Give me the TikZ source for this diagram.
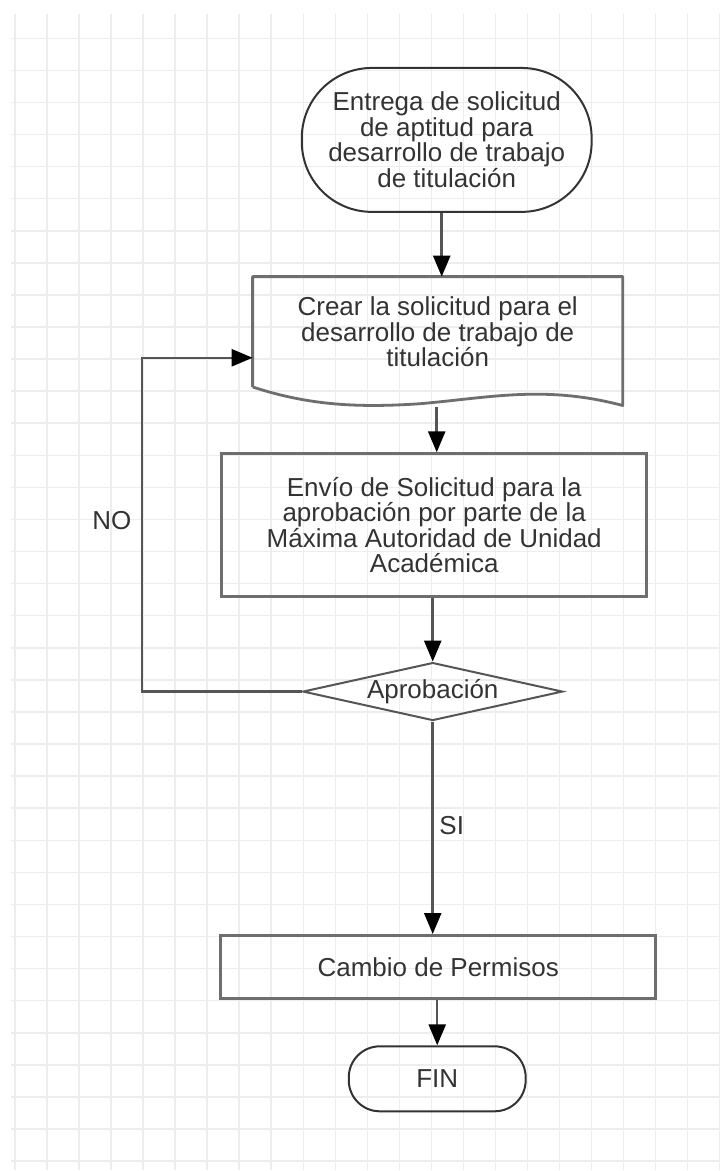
\documentclass[tikz,border=0pt]{standalone}
\usepackage{fontspec}
\setmainfont{Liberation Sans}
\usetikzlibrary{arrows.meta,shapes.geometric}

\definecolor{gridgray}{HTML}{EDEDED}
\definecolor{txtgray}{HTML}{333333}
\definecolor{boxgray}{HTML}{6E6E6E}
\definecolor{linegray}{HTML}{555555}

\tikzset{
    txt/.style={text=txtgray, font=\fontsize{26}{25.5}\selectfont, align=center, inner sep=0pt},
    terminal/.style={txt, draw=txtgray, line width=2pt, rounded corners=#1},
    procbox/.style={txt, draw=boxgray, line width=2.8pt},
    decisionbox/.style={txt, draw=linegray, line width=2pt, diamond, aspect=4.5},
    conn/.style={draw=linegray, line width=2.5pt, -{Triangle[length=21pt,width=17pt,color=black]}},
}

\begin{document}
\begin{tikzpicture}[x=1pt, y=-1pt]
    % fondo y cuadricula
    \fill[white] (0,0) rectangle (720,1171);
    \foreach \i in {0,...,22} {
        \draw[gridgray, line width=1.5pt] (15+32.05*\i, 14) -- (15+32.05*\i, 1171);
    }
    \foreach \j in {0,...,35} {
        \draw[gridgray, line width=1.5pt] (11, 38.3+32.1*\j) -- (720, 38.3+32.1*\j);
    }

    % nodos del flujo
    \node[terminal=70pt, minimum width=290pt, minimum height=144pt] (start) at (447,140)
        {Entrega de solicitud\\de aptitud para\\desarrollo de trabajo\\de titulación};
    \node[txt, minimum width=370pt, minimum height=110pt] (crear) at (438,332)
        {Crear la solicitud para el\\desarrollo de trabajo de\\titulación};
    \node[procbox, minimum width=425pt, minimum height=143pt] (envio) at (434.5,525.5)
        {Envío de Solicitud para la\\aprobación por parte de la\\Máxima Autoridad de Unidad\\Académica};
    \node[decisionbox, minimum width=260pt, minimum height=58pt] (decision) at (433,692) {Aprobación};
    \node[procbox, minimum width=435pt, minimum height=63pt] (cambio) at (438.5,967.5) {Cambio de Permisos};
    \node[terminal=31pt, minimum width=177pt, minimum height=65pt] (fin) at (437.5,1079.5) {FIN};

    % forma de documento
    \draw[boxgray, line width=2.8pt, line join=round]
        (crear.south west) -- (crear.north west) -- (crear.north east) -- ++(0,129)
        .. controls (545,385) and (490,398) .. (420,404)
        .. controls (360,408) and (310,406) .. (crear.south west);

    % etiquetas
    \node[txt] (nolabel) at (112,521) {NO};
    \node[txt] (silabel) at (452,826) {SI};

    % conectores
    \coordinate (loop) at (142,692);
    \draw[conn] ([xshift=-5pt]start.south) -- ([xshift=-5pt]start.south |- crear.north);
    \draw[conn] ([xshift=-1pt,yshift=-20pt]crear.south) -- ([xshift=-1pt]crear.south |- envio.north);
    \draw[conn] (envio.south -| decision.north) -- (decision.north);
    \draw[conn] (decision.south) -- (decision.south |- cambio.north);
    \draw[conn] (cambio.south -| fin.north) -- (fin.north);
    \draw[conn] (decision.west) -- (loop) |- ([yshift=-26pt]crear.west);
\end{tikzpicture}
\end{document}
